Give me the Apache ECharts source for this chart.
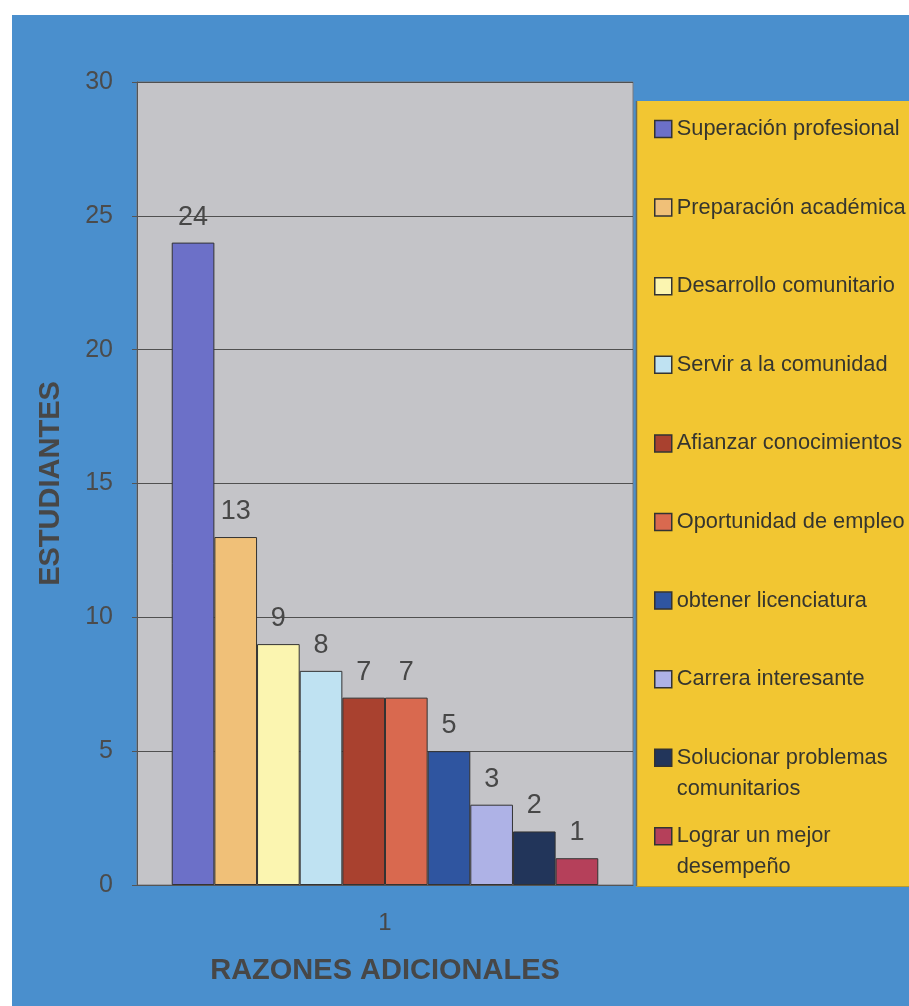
<!DOCTYPE html>
<html>
<head>
<meta charset="utf-8">
<script src="https://cdn.jsdelivr.net/npm/echarts@6/dist/echarts.min.js"></script>
<style>
  html, body { margin: 0; padding: 0; background: #ffffff; }
  #bg { position: absolute; left: 12px; top: 15px; width: 897px; height: 991px; background: #4a8fcd; }
  #chart { position: absolute; left: 0; top: 0; width: 909px; height: 1006px; }
</style>
</head>
<body>
<div id="bg"></div>
<div id="chart"></div>
<script>
const categories = ['1'];
const seriesNames = [
  'Superación profesional',
  'Preparación académica',
  'Desarrollo comunitario',
  'Servir a la comunidad',
  'Afianzar conocimientos',
  'Oportunidad de empleo',
  'obtener licenciatura',
  'Carrera interesante',
  'Solucionar problemas comunitarios',
  'Lograr un mejor desempeño'
];
const seriesValues = [24, 13, 9, 8, 7, 7, 5, 3, 2, 1];
const seriesColors = [
  '#6c70c8', '#f0c078', '#fbf5b0', '#bfe2f2', '#a9412f',
  '#d9694f', '#2f55a0', '#aeb2e6', '#22355a', '#b5405a'
];
const yAxisTitle = 'ESTUDIANTES';
const xAxisTitle = 'RAZONES ADICIONALES';

const FONT = "'Liberation Sans', Arial, sans-serif";
const TEXT = '#474747';

const chart = echarts.init(document.getElementById('chart'), null, { renderer: 'canvas' });

const series = seriesNames.map((name, i) => ({
  name: name,
  type: 'bar',
  data: [seriesValues[i]],
  barGap: '0%',
  barCategoryGap: '14%',
  itemStyle: { color: seriesColors[i], borderColor: '#333333', borderWidth: 1 },
  label: {
    show: true, position: 'top', distance: 12,
    fontSize: 27, color: TEXT, fontFamily: FONT
  }
}));

// icon for two-line legend items: square aligned with the first text line
const twoLineIcon = 'path://M0,0L0,0M0,4.12L10,4.12L10,14.12L0,14.12ZM0,36.47L0,36.47';

chart.setOption({
  backgroundColor: 'transparent',
  animation: false,
  graphic: [
    { type: 'rect', z: 0, shape: { x: 636, y: 101, width: 280, height: 785 }, style: { fill: '#f2c632' } },
    { type: 'line', z: 1, shape: { x1: 636.5, y1: 101, x2: 636.5, y2: 886 }, style: { stroke: '#6b6b5a', lineWidth: 1.5 } },
    { type: 'line', z: 1, shape: { x1: 636, y1: 886.5, x2: 909, y2: 886.5 }, style: { stroke: '#b89a30', lineWidth: 1 } }
  ],
  grid: {
    left: 137, right: 276, top: 82, bottom: 121,
    show: true, backgroundColor: '#c4c4c8', borderColor: '#7a7a7e', borderWidth: 1
  },
  legend: [
    {
      data: seriesNames.slice(0, 8),
      orient: 'vertical', left: 654, top: 117, padding: 0,
      icon: 'rect', itemWidth: 17, itemHeight: 17, itemGap: 54.6,
      itemStyle: { borderColor: '#333333', borderWidth: 1.5 },
      textStyle: { fontSize: 21.8, lineHeight: 24, color: '#35352f', fontFamily: FONT },
      selectedMode: false
    },
    {
      data: seriesNames.slice(8).map(n => ({ name: n, icon: twoLineIcon })),
      orient: 'vertical', left: 654, top: 741.5, padding: 0,
      itemWidth: 17, itemHeight: 62, itemGap: 15,
      itemStyle: { borderColor: '#333333', borderWidth: 1.5 },
      textStyle: { fontSize: 21.8, lineHeight: 31, width: 232, overflow: 'break', color: '#35352f', fontFamily: FONT },
      selectedMode: false
    }
  ],
  xAxis: {
    type: 'category',
    data: categories,
    name: xAxisTitle,
    nameLocation: 'middle',
    nameGap: 71,
    nameTextStyle: { fontSize: 29, fontWeight: 'bold', color: TEXT, fontFamily: FONT },
    axisLine: { show: true, lineStyle: { color: '#555555', width: 1 } },
    axisTick: { show: false },
    axisLabel: { fontSize: 24, color: TEXT, fontFamily: FONT, margin: 26 }
  },
  yAxis: {
    type: 'value',
    min: 0, max: 30, interval: 5,
    name: yAxisTitle,
    nameLocation: 'middle',
    nameRotate: 90,
    nameGap: 72,
    nameTextStyle: { fontSize: 29, fontWeight: 'bold', color: TEXT, fontFamily: FONT },
    axisLine: { show: true, lineStyle: { color: '#555555', width: 1 } },
    axisTick: { show: true, length: 5, lineStyle: { color: '#555555' } },
    axisLabel: { fontSize: 25, color: '#4b4b4b', fontFamily: FONT, margin: 24 },
    splitLine: { show: true, lineStyle: { color: '#505050', width: 1.2 } }
  },
  series: series
});
</script>
</body>
</html>
